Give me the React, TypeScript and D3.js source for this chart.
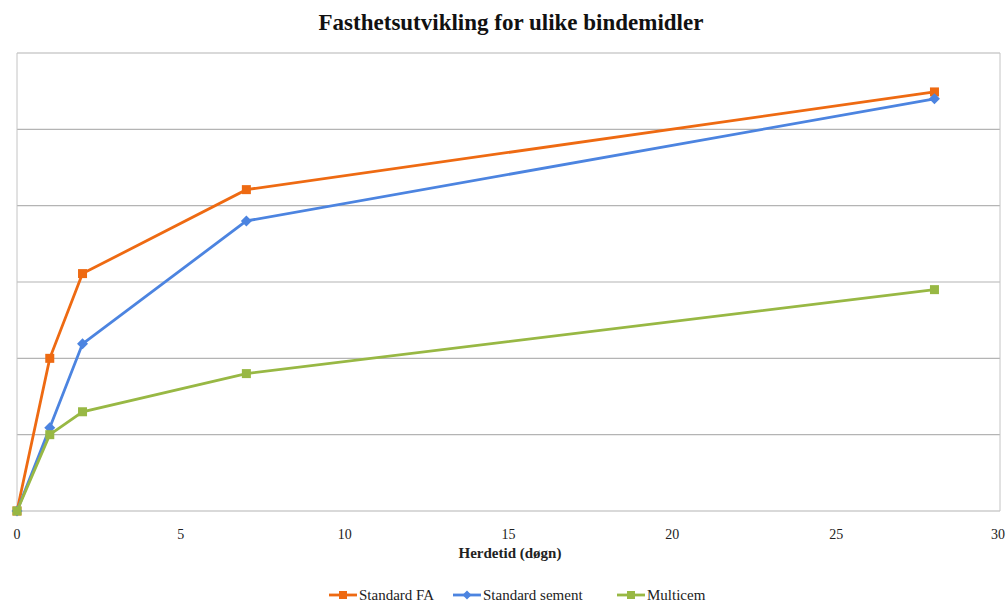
import React from "react";
import * as d3 from "d3";

const days = [0, 1, 2, 7, 28];
const standardFA = [0, 20, 31.1, 42.1, 54.9];
const standardSement = [0, 10.9, 21.9, 38.0, 54.0];
const multicem = [0, 10.0, 13.0, 18.0, 29.0];
const xTicks = [0, 5, 10, 15, 20, 25, 30];
const yGrid = [0, 10, 20, 30, 40, 50, 60];

const series = [
  { name: "Standard FA", values: standardFA, color: "#EE6A12", marker: "square" },
  { name: "Standard sement", values: standardSement, color: "#4C84E0", marker: "diamond" },
  { name: "Multicem", values: multicem, color: "#98B844", marker: "square" },
];

const W = 1006;
const H = 603;
const left = 17;
const right = 1000;
const top = 53;
const bottom = 511;

export default function App() {
  const x = d3.scaleLinear().domain([0, 30]).range([left, right]);
  const y = d3.scaleLinear().domain([0, 60]).range([bottom, top]);
  const line = d3
    .line<number>()
    .x((_, i) => x(days[i]))
    .y((d) => y(d));
  const font = "'Liberation Serif', 'Times New Roman', serif";
  const legendX = [329, 453, 617];
  return (
    <svg
      width={W}
      height={H}
      style={{ position: "absolute", left: 0, top: 0, background: "#fff" }}
      fontFamily={font}
    >
      <text x={511} y={30} textAnchor="middle" fontSize={23} fontWeight="bold" fill="#111">
        Fasthetsutvikling for ulike bindemidler
      </text>
      {yGrid.map((v) => (
        <line key={v} x1={left} x2={right} y1={y(v)} y2={y(v)} stroke="#b4b4b4" strokeWidth={1.2} />
      ))}
      <line x1={left} x2={left} y1={top} y2={bottom} stroke="#c4c4c4" strokeWidth={1} />
      <line x1={right} x2={right} y1={top} y2={bottom} stroke="#c4c4c4" strokeWidth={1} />
      {xTicks.map((t) => (
        <text key={t} x={x(t)} y={539} textAnchor={t === 30 ? "end" : "middle"} dx={t === 30 ? 5 : 0} fontSize={14} fill="#222">
          {t}
        </text>
      ))}
      <text x={510} y={558} textAnchor="middle" fontSize={15} fontWeight="bold" fill="#222">
        Herdetid (døgn)
      </text>
      {series.map((s) => (
        <g key={s.name}>
          <path d={line(s.values) || ""} fill="none" stroke={s.color} strokeWidth={2.8} />
          {s.values.map((v, i) =>
            s.marker === "square" ? (
              <rect key={i} x={x(days[i]) - 4.5} y={y(v) - 4.5} width={9} height={9} fill={s.color} />
            ) : (
              <path
                key={i}
                d={`M${x(days[i])},${y(v) - 5.5}L${x(days[i]) + 5.5},${y(v)}L${x(days[i])},${y(v) + 5.5}L${x(days[i]) - 5.5},${y(v)}Z`}
                fill={s.color}
              />
            )
          )}
        </g>
      ))}
      {series.map((s, i) => (
        <g key={s.name} transform={`translate(${legendX[i]},595)`}>
          <line x1={0} x2={28} y1={0} y2={0} stroke={s.color} strokeWidth={2.8} />
          {s.marker === "square" ? (
            <rect x={10} y={-4} width={8} height={8} fill={s.color} />
          ) : (
            <path d="M14,-4.5L18.5,0L14,4.5L9.5,0Z" fill={s.color} />
          )}
          <text x={30} y={5} fontSize={15} fill="#222">
            {s.name}
          </text>
        </g>
      ))}
    </svg>
  );
}
